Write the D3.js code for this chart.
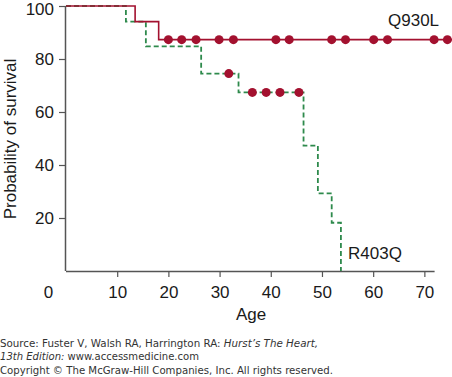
<!DOCTYPE html>
<html><head><meta charset="utf-8">
<script src="https://cdn.jsdelivr.net/npm/d3@7"></script>
<style>body{margin:0;background:#fff}svg{display:block}</style>
</head><body><svg id="c" width="452" height="377"></svg>
<script>
// ---- data ----
const xTicks = [0, 10, 20, 30, 40, 50, 60, 70];
const yTicks = [20, 40, 60, 80, 100];
const q930lTimes = [0, 13.5, 18.1, 76];
const q930lSurv  = [100, 94.1, 87.3, 87.3];
const q930lCensor = [20.0, 22.6, 25.4, 29.9, 32.7, 41.0, 43.6, 51.9, 54.6, 60.1, 62.8, 71.9, 74.5];
const r403qTimes = [0, 11.7, 15.6, 26.4, 33.7, 46.4, 49.2, 51.9, 53.7];
const r403qSurv  = [100, 94.1, 84.8, 74.5, 67.4, 47.3, 29.3, 18.2, 0];
const r403qCensorAge  = [31.8, 36.4, 39.1, 41.8, 45.5];
const r403qCensorSurv = [74.5, 67.4, 67.4, 67.4, 67.4];
const seriesLabels = ["Q930L", "R403Q"];
const sourceLines = [
  ["Source: Fuster V, Walsh RA, Harrington RA: ", "Hurst\u2019s The Heart,"],
  ["", "13th Edition:", " www.accessmedicine.com"],
  ["Copyright \u00a9 The McGraw-Hill Companies, Inc. All rights reserved."]
];

const svg = d3.select("#c");
const x = d3.scaleLinear().domain([0, 72]).range([66, 434.6]);
const y = d3.scaleLinear().domain([0, 100]).range([271, 6]);
const RED = "#a3112f", GREEN = "#2e8a4c", AX = "#555";
const FONT = "Liberation Sans, Arial, Helvetica, sans-serif";

// axes
const xAxis = svg.append("g").attr("transform", "translate(0,271)")
  .call(d3.axisBottom(x).tickValues(xTicks).tickSize(6).tickPadding(6).tickFormat(d3.format("d")));
const yAxis = svg.append("g").attr("transform", "translate(66,0)")
  .call(d3.axisLeft(y).tickValues(yTicks).tickSize(7).tickPadding(5).tickFormat(d3.format("d")));
[xAxis, yAxis].forEach(g => {
  g.select(".domain").attr("stroke", AX).attr("stroke-width", 1.5);
  g.selectAll(".tick line").attr("stroke", AX).attr("stroke-width", 1.2);
  g.selectAll(".tick text").attr("fill", "#1a1a1a").style("font-family", FONT).style("font-size", "17px");
});
xAxis.select(".domain").attr("d", `M${x(0)},0.5H${x(72)}`);
yAxis.select(".domain").attr("d", `M-0.5,${y(0)}V${y(100)}`);
yAxis.selectAll(".tick").filter(d => d === 100).select("text").attr("y", 3);
xAxis.selectAll(".tick").filter(d => d === 0).each(function () {
  d3.select(this).select("line").remove();
  d3.select(this).select("text").attr("dx", -18);
});
xAxis.selectAll(".tick text").attr("dy", "0.9em");

// step lines
const line = d3.line().x(d => x(d[0])).y(d => y(d[1])).curve(d3.curveStepAfter);
svg.append("path").datum(r403qTimes.map((t, i) => [t, r403qSurv[i]]))
  .attr("d", line).attr("fill", "none").attr("stroke", GREEN)
  .attr("stroke-width", 1.8).attr("stroke-dasharray", "5,3");
svg.append("path").datum(q930lTimes.map((t, i) => [t, q930lSurv[i]]))
  .attr("d", line).attr("fill", "none").attr("stroke", RED).attr("stroke-width", 1.6);

// censor marks
svg.append("g").selectAll("circle").data(q930lCensor).join("circle")
  .attr("cx", d => x(d)).attr("cy", y(87.3)).attr("r", 4.5).attr("fill", RED);
svg.append("g").selectAll("circle").data(r403qCensorAge).join("circle")
  .attr("cx", d => x(d)).attr("cy", (d, i) => y(r403qCensorSurv[i])).attr("r", 4.5).attr("fill", RED);

// series labels
svg.append("text").attr("x", 388).attr("y", 26).text(seriesLabels[0])
  .style("font-family", FONT).style("font-size", "17px").attr("fill", "#1a1a1a");
svg.append("text").attr("x", 348).attr("y", 259).text(seriesLabels[1])
  .style("font-family", FONT).style("font-size", "17px").attr("fill", "#1a1a1a");

// axis titles
svg.append("text").attr("x", 251).attr("y", 320).attr("text-anchor", "middle").text("Age")
  .style("font-family", FONT).style("font-size", "17px").attr("fill", "#1a1a1a");
svg.append("text").attr("transform", "translate(16,139) rotate(-90)").attr("text-anchor", "middle")
  .text("Probability of survival").style("font-family", FONT).style("font-size", "17px").attr("fill", "#1a1a1a");

// source
const srcY = [347, 360, 374];
const srcW = [318, 199, 333];
sourceLines.forEach((parts, i) => {
  const t = svg.append("text").attr("x", 0).attr("y", srcY[i])
    .style("font-family", "DejaVu Sans, Verdana, sans-serif").style("font-size", "10px").attr("fill", "#333")
    .attr("textLength", srcW[i]).attr("lengthAdjust", "spacingAndGlyphs");
  parts.forEach((p, j) => {
    const italic = (i === 0 && j === 1) || (i === 1 && j === 1);
    t.append("tspan").text(p).style("font-style", italic ? "italic" : "normal");
  });
});
</script></body></html>
